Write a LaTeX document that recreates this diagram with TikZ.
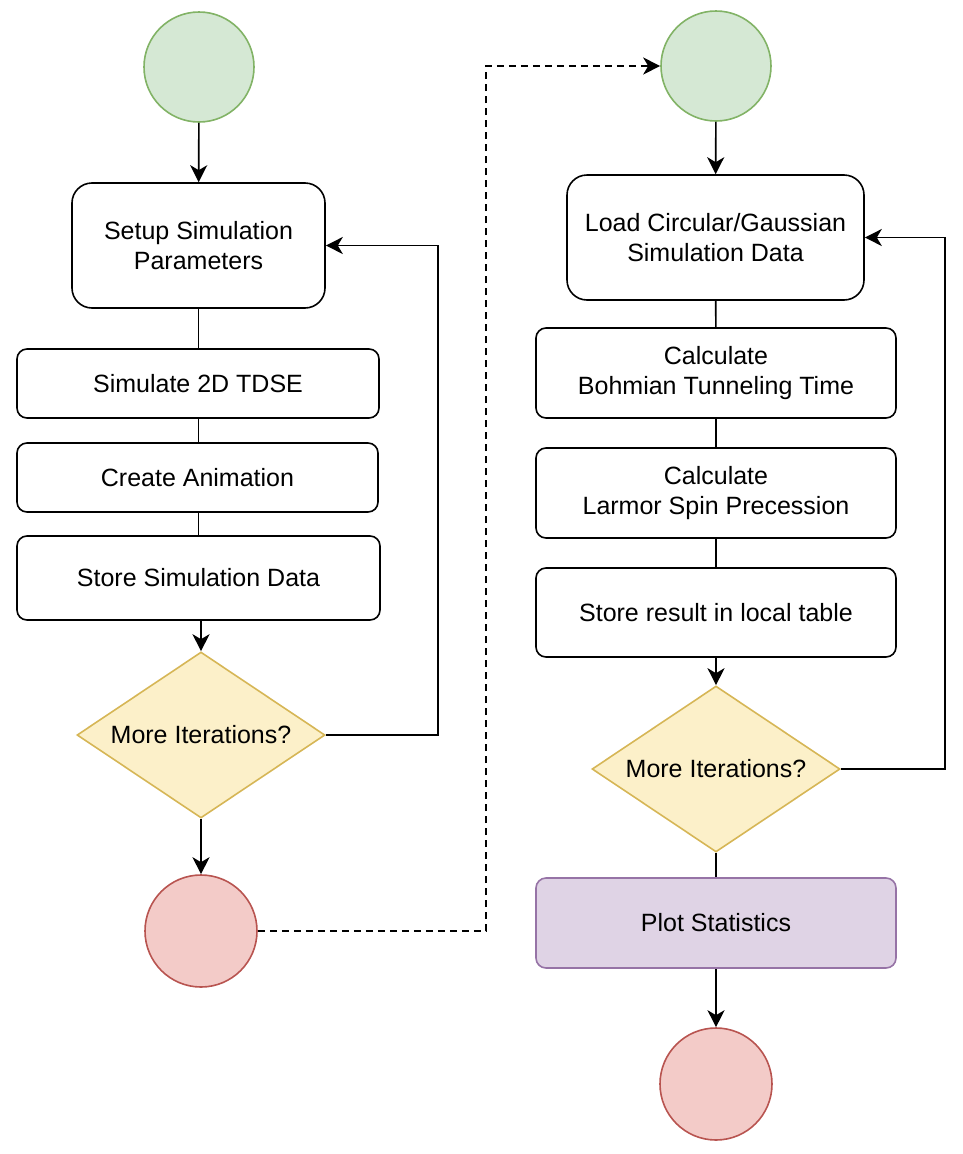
\documentclass[tikz,border=0pt]{standalone}
\usepackage{fontspec}
\setmainfont{Liberation Sans}
\usetikzlibrary{shapes.geometric,arrows.meta}
\definecolor{gfill}{HTML}{D5E8D4}
\definecolor{gline}{HTML}{82B366}
\definecolor{rfill}{HTML}{F3CBC8}
\definecolor{rline}{HTML}{B85450}
\definecolor{yfill}{HTML}{FCF0C9}
\definecolor{yline}{HTML}{D6B656}
\definecolor{pfill}{HTML}{DFD3E5}
\definecolor{pline}{HTML}{9673A6}
\tikzset{
  every node/.style={font=\fontsize{25}{30}\selectfont, inner sep=0pt, align=center},
  stepbox/.style={draw=black, line width=1.6pt, rectangle, rounded corners=10pt},
  bigbox/.style={stepbox, rounded corners=20pt},
  startc/.style={circle, draw=gline, fill=gfill, line width=1.6pt, minimum size=110pt},
  endc/.style={circle, draw=rline, fill=rfill, line width=1.6pt, minimum size=112pt},
  decision/.style={diamond, draw=yline, fill=yfill, line width=1.6pt, minimum width=248pt, minimum height=166pt, aspect=1.5},
  conn/.style={line width=1.6pt, draw=black},
  arr/.style={conn, -{Stealth[length=17pt, width=17pt, inset=5pt]}},
}
\begin{document}
\begin{tikzpicture}[x=1pt, y=-1pt]
\useasboundingbox (0,0) rectangle (962,1154);
% left column
\node[startc] (g1) at (199,67) {};
\node[bigbox, minimum width=253pt, minimum height=125pt] (setup) at (198.5,245.5) {Setup Simulation\\Parameters};
\node[stepbox, minimum width=362pt, minimum height=69pt] (sim) at (198,383.5) {Simulate 2D TDSE};
\node[stepbox, minimum width=361pt, minimum height=69pt] (anim) at (197.5,477.5) {Create Animation};
\node[stepbox, minimum width=363pt, minimum height=84pt] (store) at (198.5,578) {Store Simulation Data};
\node[decision] (dia1) at (201,735) {More Iterations?};
\node[endc] (r1) at (201,931) {};
% right column
\node[startc] (g2) at (716,66) {};
\node[bigbox, minimum width=297pt, minimum height=125pt] (load) at (715.5,237.5) {Load Circular/Gaussian\\Simulation Data};
\node[stepbox, minimum width=360pt, minimum height=90pt] (bohm) at (716,373) {Calculate\\Bohmian Tunneling Time};
\node[stepbox, minimum width=360pt, minimum height=90pt] (larm) at (716,493) {Calculate\\Larmor Spin Precession};
\node[stepbox, minimum width=360pt, minimum height=89pt] (res) at (716,612.5) {Store result in local table};
\node[decision] (dia2) at (716,769) {More Iterations?};
\node[stepbox, draw=pline, fill=pfill, minimum width=360pt, minimum height=90pt] (plot) at (716,923) {Plot Statistics};
\node[endc] (r2) at (716,1084) {};
% waypoints
\coordinate (l1) at (438,0);
\coordinate (d1) at (486,0);
\coordinate (l2) at (945,0);
% connectors left
\draw[arr] (g1) -- (setup);
\draw[conn] (setup) -- (setup |- sim.north);
\draw[conn] (sim.south -| setup) -- (anim.north -| setup);
\draw[conn] (anim.south -| store) -- (store.north);
\draw[arr] (store.south -| dia1) -- (dia1.north);
\draw[arr] (dia1.east) -- (dia1.east -| l1) |- (setup.east);
\draw[arr] (dia1) -- (r1);
\draw[arr, dash pattern=on 7pt off 5pt] (r1.east) -- (r1.east -| d1) |- (g2.west);
% connectors right
\draw[arr] (g2) -- (load);
\draw[conn] (load) -- (bohm);
\draw[conn] (bohm) -- (larm);
\draw[conn] (larm) -- (res);
\draw[arr] (res) -- (dia2);
\draw[arr] (dia2.east) -- (dia2.east -| l2) |- (load.east);
\draw[conn] (dia2) -- (plot);
\draw[arr] (plot) -- (r2);
\end{tikzpicture}
\end{document}
